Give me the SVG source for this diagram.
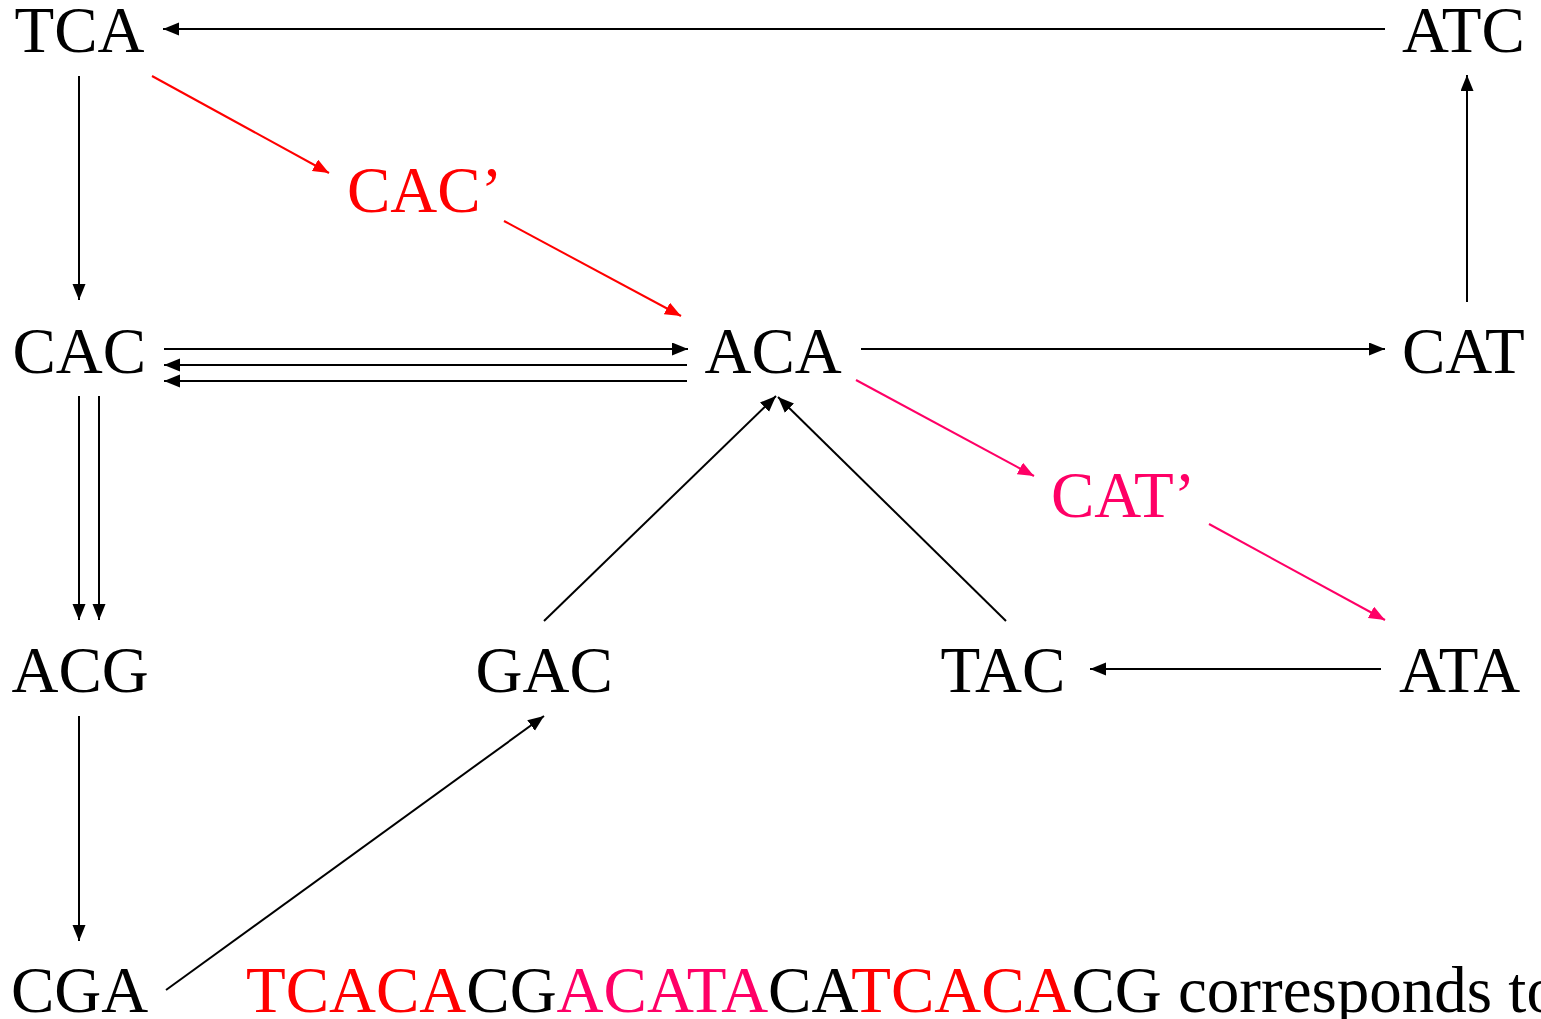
<svg xmlns="http://www.w3.org/2000/svg" width="1541" height="1019" viewBox="0 0 1541 1019">
  <style>
    text { font-family: "Liberation Serif", "Times New Roman", serif; font-size: 65px; fill: #000; }
    .red { fill: #ff0000; }
    .pink { fill: #ff0066; }
    line { stroke-width: 2; fill: none; }
    .k { stroke: #000; marker-end: url(#ak); }
    .r { stroke: #ff0000; marker-end: url(#ar); }
    .p { stroke: #ff0066; marker-end: url(#ap); }
  </style>
  <defs>
    <marker id="ak" markerUnits="userSpaceOnUse" markerWidth="17" markerHeight="14" refX="16" refY="6.5" orient="auto">
      <path d="M0,0 L16,6.5 L0,13 z" fill="#000"/>
    </marker>
    <marker id="ar" markerUnits="userSpaceOnUse" markerWidth="17" markerHeight="14" refX="16" refY="6.5" orient="auto">
      <path d="M0,0 L16,6.5 L0,13 z" fill="#ff0000"/>
    </marker>
    <marker id="ap" markerUnits="userSpaceOnUse" markerWidth="17" markerHeight="14" refX="16" refY="6.5" orient="auto">
      <path d="M0,0 L16,6.5 L0,13 z" fill="#ff0066"/>
    </marker>
  </defs>
  <rect width="1541" height="1019" fill="#fff"/>

  <g id="connectors">
    <line class="k" x1="1385" y1="29" x2="163" y2="29"/>
    <line class="k" x1="79" y1="76" x2="79" y2="300"/>
    <line class="r" x1="152" y1="76" x2="329" y2="173"/>
    <line class="r" x1="504" y1="221" x2="681" y2="316"/>
    <line class="k" x1="164" y1="349" x2="688" y2="349"/>
    <line class="k" x1="687" y1="365" x2="164" y2="365"/>
    <line class="k" x1="687" y1="381" x2="164" y2="381"/>
    <line class="k" x1="861" y1="349" x2="1385" y2="349"/>
    <line class="k" x1="1467" y1="302" x2="1467" y2="75"/>
    <line class="p" x1="856" y1="380" x2="1034" y2="476"/>
    <line class="p" x1="1209" y1="524" x2="1385" y2="620"/>
    <line class="k" x1="79" y1="396" x2="79" y2="620"/>
    <line class="k" x1="99" y1="396" x2="99" y2="620"/>
    <line class="k" x1="79" y1="716" x2="79" y2="941"/>
    <line class="k" x1="166" y1="990" x2="544" y2="716"/>
    <line class="k" x1="544" y1="621" x2="776" y2="396"/>
    <line class="k" x1="1006" y1="621" x2="778" y2="397"/>
    <line class="k" x1="1381" y1="669" x2="1090" y2="669"/>
  </g>

  <g id="TCA"><text x="14.5" y="52">TCA</text></g>
  <g id="ATC"><text x="1402" y="52">ATC</text></g>
  <g id="CAC-prime"><text class="red" x="347" y="212">CAC’</text></g>
  <g id="CAC"><text x="12.5" y="373">CAC</text></g>
  <g id="ACA"><text x="704.5" y="373">ACA</text></g>
  <g id="CAT"><text x="1402" y="373">CAT</text></g>
  <g id="CAT-prime"><text class="pink" x="1051" y="517">CAT’</text></g>
  <g id="ACG"><text x="11.5" y="692">ACG</text></g>
  <g id="GAC"><text x="475.5" y="692">GAC</text></g>
  <g id="TAC"><text x="940.5" y="692">TAC</text></g>
  <g id="ATA"><text x="1399" y="692">ATA</text></g>
  <g id="CGA"><text x="11" y="1012">CGA</text></g>

  <g id="sequence">
    <text x="246" y="1012"><tspan class="red">TCACA</tspan><tspan>CG</tspan><tspan class="pink">ACATA</tspan><tspan>CA</tspan><tspan class="red">TCACA</tspan><tspan>CG corresponds to</tspan></text>
  </g>
</svg>
